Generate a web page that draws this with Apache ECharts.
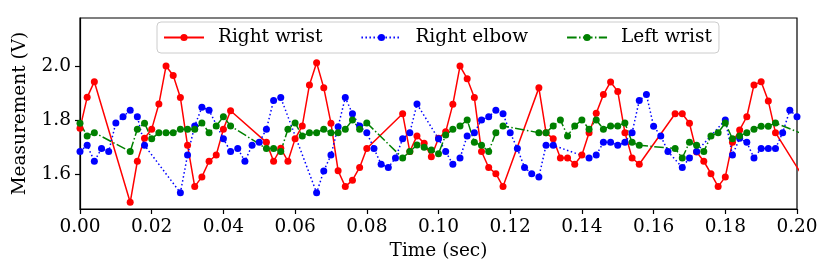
<!DOCTYPE html>
<html>
<head>
<meta charset="utf-8">
<script src="https://cdn.jsdelivr.net/npm/echarts@6/dist/echarts.min.js"></script>
<style>html,body{margin:0;padding:0;background:#fff}#c{width:831px;height:277px}</style>
</head>
<body>
<div id="c"></div>
<script>
// Right wrist
const rightWristT = [0,0.002,0.004,0.014,0.016,0.018,0.020,0.022,0.024,0.026,0.028,0.030,0.032,0.034,0.036,0.038,0.040,0.042,0.052,0.054,0.056,0.058,0.060,0.062,0.064,0.066,0.068,0.070,0.072,0.074,0.076,0.078,0.080,0.090,0.092,0.094,0.096,0.098,0.100,0.102,0.104,0.106,0.108,0.110,0.112,0.114,0.116,0.118,0.128,0.130,0.132,0.134,0.136,0.138,0.140,0.142,0.144,0.146,0.148,0.150,0.152,0.154,0.156,0.166,0.168,0.170,0.172,0.174,0.176,0.178,0.180,0.182,0.184,0.186,0.188,0.190,0.192,0.194,0.204];
const rightWristV = [1.769,1.884,1.942,1.495,1.647,1.732,1.766,1.859,2.000,1.965,1.883,1.706,1.553,1.589,1.647,1.670,1.766,1.834,1.717,1.647,1.695,1.647,1.730,1.778,1.930,2.012,1.919,1.788,1.612,1.553,1.577,1.624,1.694,1.823,1.683,1.741,1.714,1.664,1.732,1.756,1.858,2.000,1.953,1.883,1.683,1.624,1.601,1.553,1.919,1.753,1.730,1.659,1.659,1.636,1.670,1.753,1.825,1.894,1.941,1.906,1.753,1.659,1.636,1.823,1.823,1.788,1.681,1.647,1.601,1.553,1.589,1.717,1.763,1.812,1.930,1.942,1.870,1.753,1.540];
// Right elbow
const rightElbowT = [0,0.002,0.004,0.006,0.008,0.010,0.012,0.014,0.016,0.018,0.028,0.030,0.032,0.034,0.036,0.040,0.042,0.044,0.046,0.048,0.050,0.052,0.054,0.056,0.066,0.068,0.070,0.072,0.074,0.076,0.078,0.080,0.082,0.084,0.086,0.088,0.090,0.092,0.094,0.100,0.102,0.104,0.106,0.108,0.110,0.112,0.114,0.116,0.118,0.120,0.122,0.124,0.126,0.128,0.130,0.132,0.142,0.144,0.146,0.148,0.150,0.152,0.154,0.156,0.158,0.160,0.162,0.164,0.168,0.170,0.172,0.180,0.182,0.184,0.186,0.188,0.190,0.192,0.194,0.196,0.198,0.200];
const rightElbowV = [1.683,1.706,1.647,1.694,1.683,1.789,1.812,1.836,1.812,1.706,1.530,1.670,1.778,1.847,1.836,1.730,1.683,1.694,1.647,1.706,1.717,1.766,1.872,1.883,1.530,1.611,1.670,1.775,1.883,1.823,1.778,1.753,1.694,1.636,1.624,1.659,1.730,1.753,1.859,1.730,1.683,1.636,1.659,1.741,1.753,1.800,1.812,1.836,1.823,1.753,1.694,1.624,1.601,1.589,1.706,1.706,1.659,1.670,1.717,1.717,1.706,1.717,1.753,1.872,1.894,1.777,1.741,1.683,1.624,1.659,1.683,1.800,1.670,1.732,1.717,1.659,1.694,1.694,1.694,1.753,1.836,1.812];
// Left wrist
const leftWristT = [0,0.002,0.004,0.014,0.016,0.018,0.020,0.022,0.024,0.026,0.028,0.030,0.032,0.034,0.036,0.038,0.040,0.042,0.052,0.054,0.056,0.058,0.060,0.062,0.064,0.066,0.068,0.070,0.072,0.074,0.076,0.078,0.080,0.090,0.092,0.094,0.096,0.098,0.100,0.102,0.104,0.106,0.108,0.110,0.112,0.114,0.116,0.118,0.128,0.130,0.132,0.134,0.136,0.138,0.140,0.142,0.144,0.146,0.148,0.150,0.152,0.154,0.156,0.166,0.168,0.170,0.172,0.174,0.176,0.178,0.180,0.182,0.184,0.186,0.188,0.190,0.192,0.194,0.204];
const leftWristV = [1.788,1.741,1.753,1.683,1.766,1.788,1.730,1.753,1.753,1.753,1.766,1.766,1.766,1.789,1.753,1.778,1.812,1.778,1.694,1.694,1.683,1.766,1.789,1.741,1.753,1.753,1.766,1.753,1.753,1.766,1.800,1.766,1.789,1.659,1.683,1.707,1.699,1.689,1.675,1.744,1.766,1.778,1.800,1.717,1.706,1.683,1.753,1.778,1.753,1.753,1.778,1.800,1.741,1.778,1.800,1.766,1.800,1.766,1.778,1.778,1.789,1.717,1.706,1.694,1.659,1.717,1.706,1.683,1.741,1.753,1.789,1.730,1.741,1.753,1.766,1.777,1.777,1.789,1.735];

const xTicks = [0,0.02,0.04,0.06,0.08,0.10,0.12,0.14,0.16,0.18,0.20];
const yTicks = [1.6,1.8,2.0];

const FONT = 'DejaVu Serif';
const pairs = (t, v) => t.map((x, i) => [x, v[i]]);

const chart = echarts.init(document.getElementById('c'), null, {renderer: 'canvas'});
function mk(name, t, v, color, type) {
  return {
    name, type: 'line', data: pairs(t, v),
    symbol: 'circle', symbolSize: 7, showSymbol: true, showAllSymbol: true,
    clip: true, animation: false,
    lineStyle: {color, width: 1.5, type},
    itemStyle: {color},
    emphasis: {disabled: true}
  };
}
chart.setOption({
  animation: false,
  grid: {left: 80, right: 34, top: 18, bottom: 68, show: true, borderColor: '#000', borderWidth: 1.2, backgroundColor: 'transparent'},
  legend: {
    left: 157, top: 22,
    padding: [6, 7, 6, 6],
    itemWidth: 40, itemHeight: 9, itemGap: 38,
    backgroundColor: 'rgba(255,255,255,0.8)',
    borderColor: '#cccccc', borderWidth: 1, borderRadius: 4,
    textStyle: {fontFamily: FONT, fontSize: 18.5, color: '#000', padding: [0, 0, 0, 9]},
    data: ['Right wrist', 'Right elbow', 'Left wrist']
  },
  xAxis: {
    type: 'value', min: 0, max: 0.2, interval: 0.02,
    axisLine: {show: true, lineStyle: {color: '#000', width: 1.2}},
    axisTick: {show: true, inside: false, length: 5, lineStyle: {color: '#000', width: 1.2}, customValues: xTicks},
    axisLabel: {color: '#000', fontFamily: FONT, fontSize: 18.5, margin: 9, customValues: xTicks, formatter: v => v.toFixed(2)},
    splitLine: {show: false},
    name: 'Time (sec)', nameLocation: 'middle', nameGap: 31,
    nameTextStyle: {color: '#000', fontFamily: FONT, fontSize: 18.5}
  },
  yAxis: {
    type: 'value', min: 1.47, max: 2.178,
    axisLine: {show: true, lineStyle: {color: '#000', width: 1.2}},
    axisTick: {show: true, inside: false, length: 5, lineStyle: {color: '#000', width: 1.2}, customValues: yTicks},
    axisLabel: {color: '#000', fontFamily: FONT, fontSize: 18.5, margin: 9, customValues: yTicks, formatter: v => v.toFixed(1)},
    splitLine: {show: false},
    name: 'Measurement (V)', nameLocation: 'middle', nameGap: 50,
    nameTextStyle: {color: '#000', fontFamily: FONT, fontSize: 18.5}
  },
  series: [
    mk('Right wrist', rightWristT, rightWristV, '#ff0000', 'solid'),
    mk('Right elbow', rightElbowT, rightElbowV, '#0000ff', [1.5, 2.5]),
    mk('Left wrist', leftWristT, leftWristV, '#008000', [9.6, 2.4, 1.5, 2.4])
  ]
});
</script>
</body>
</html>
